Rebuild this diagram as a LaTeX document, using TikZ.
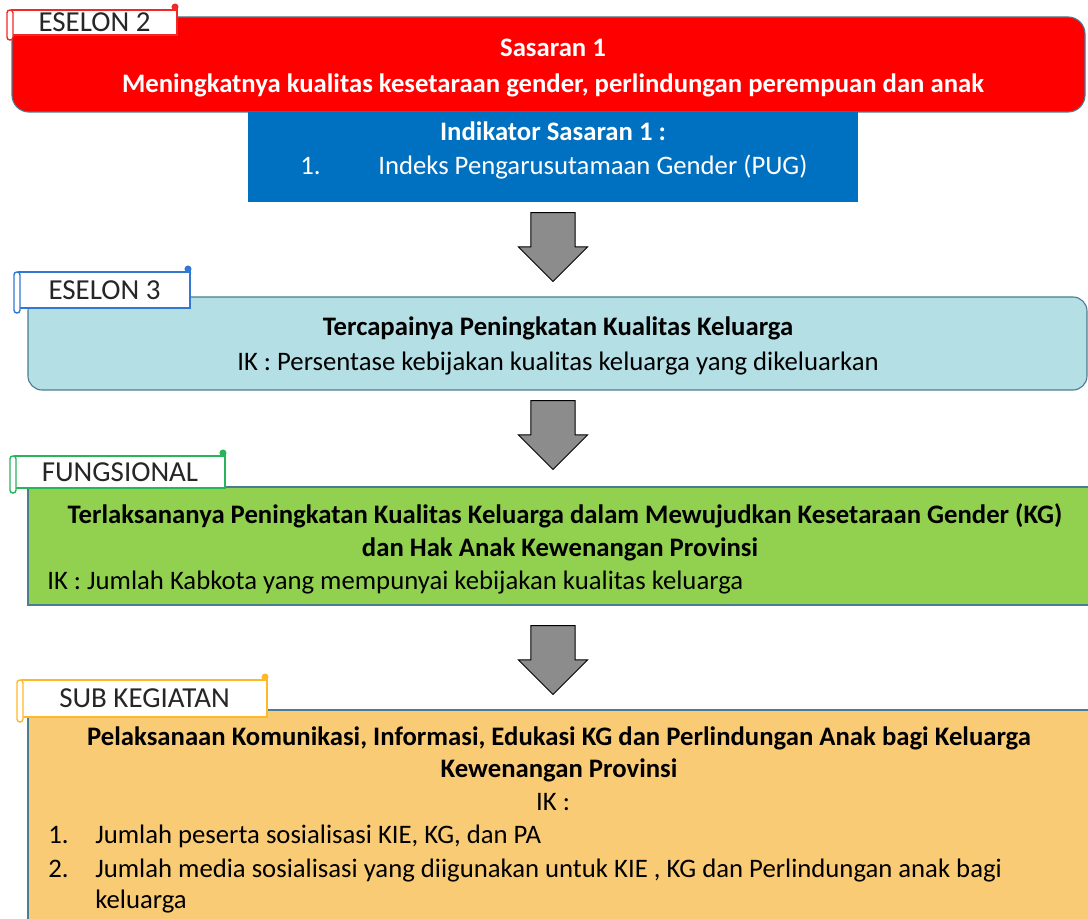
\documentclass[tikz,border=0pt]{standalone}
\usepackage{fontspec}
\setmainfont{Carlito}
\usepackage{tikz}
\usetikzlibrary{fit}
\usetikzlibrary{shapes.arrows}

\definecolor{sasaranred}{RGB}{255,0,0}
\definecolor{indikatorblue}{RGB}{0,112,192}
\definecolor{eselonblue}{RGB}{180,223,229}
\definecolor{fungsigreen}{RGB}{146,208,80}
\definecolor{subkegorange}{RGB}{250,203,117}
\definecolor{boxedge}{RGB}{75,125,145}
\definecolor{tabred}{RGB}{240,40,40}
\definecolor{tabblue}{RGB}{50,120,210}
\definecolor{tabgreen}{RGB}{40,180,90}
\definecolor{taborange}{RGB}{255,185,40}
\definecolor{arrowgray}{RGB}{140,140,140}
\definecolor{labelgray}{RGB}{38,38,38}

\begin{document}
\begin{tikzpicture}[x=0.025cm, y=-0.025cm,
    lvlbox/.style={draw=boxedge, line width=0.8pt, inner sep=0pt},
    tabbox/.style={draw=#1, fill=white, line width=1pt, inner sep=0pt},
    tablabel/.style={font=\fontsize{20.6}{24}\selectfont, text=labelgray, inner sep=0pt},
    downarrow/.style={single arrow, draw=black, fill=arrowgray, line width=0.7pt,
        rotate=-90, minimum height=1.72cm, minimum width=1.7cm,
        single arrow head extend=0.31cm, inner xsep=0.1cm, inner ysep=0.54cm},
    bodytext/.style={font=\fontsize{19}{23}\selectfont, inner sep=0pt, anchor=base},
    boldtext/.style={font=\fontsize{19}{23}\selectfont\bfseries, inner sep=0pt, anchor=base}]

    \useasboundingbox (0,0) rectangle (1088,919);
    \clip (0,0) rectangle (1088,919);

    % level boxes
    \node[lvlbox, fill=sasaranred, rounded corners=12pt, fit={(12,17) (1085,112)}] (sasaran) {};
    \node[fill=indikatorblue, inner sep=0pt, fit={(248,112) (858,202)}] (indikator) {};
    \node[lvlbox, fill=eselonblue, rounded corners=10pt, fit={(28,297) (1087,390)}] (eselon3) {};
    \node[lvlbox, fill=fungsigreen, fit={(28,487) (1100,605)}] (fungsional) {};
    \node[lvlbox, fill=subkegorange, fit={(28,710) (1100,940)}] (subkeg) {};

    % block arrows between the levels
    \foreach \y/\n in {236/arrowA, 424/arrowB, 649/arrowC}
        \node[downarrow] (\n) at (553,\y) {};

    % scroll tabs
    \foreach \n/\c/\xa/\ya/\xb/\yb/\t in {tabA/tabred/12/10/177/35/ESELON 2,
            tabB/tabblue/19/272/190/308/ESELON 3,
            tabC/tabgreen/15/456/225/488/FUNGSIONAL,
            tabD/taborange/22/680/267/717/SUB KEGIATAN}
    {
        \node[tabbox=\c, fit={(\xa,\ya) (\xb,\yb)}] (\n) {};
        \draw[\c, fill=white, line width=1pt, rounded corners=2pt] (\xa-5,\ya) rectangle (\xa+1,\yb+5);
        \fill[\c] (\xb-2,\ya-3) circle (2.5pt);
        \node[tablabel] (\n-text) at (\n) {\t};
    }

    % Eselon 2
    \node[boldtext, white] (sasaranA) at (553,57) {Sasaran 1};
    \node[boldtext, white] (sasaranB) at (553,93) {Meningkatnya kualitas kesetaraan gender, perlindungan perempuan dan anak};
    \node[boldtext, white] (indikA) at (553,141) {Indikator Sasaran 1 :};
    \node[bodytext, white, anchor=base west] (indikNum) at (300,175) {1.};
    \node[bodytext, white, anchor=base west] (indikB) at (378,175) {Indeks Pengarusutamaan Gender (PUG)};

    % Eselon 3
    \node[boldtext] (eselonA) at (558,336) {Tercapainya Peningkatan Kualitas Keluarga};
    \node[bodytext] (eselonB) at (558,370) {IK : Persentase kebijakan kualitas keluarga yang dikeluarkan};

    % Fungsional
    \node[boldtext] (fungsiA) at (565,523) {Terlaksananya Peningkatan Kualitas Keluarga dalam Mewujudkan Kesetaraan Gender (KG)};
    \node[boldtext] (fungsiB) at (560,556) {dan Hak Anak Kewenangan Provinsi};
    \node[bodytext, anchor=base west] (fungsiC) at (47,589) {IK : Jumlah Kabkota yang mempunyai kebijakan kualitas keluarga};

    % Sub kegiatan
    \node[boldtext] (subA) at (559,745) {Pelaksanaan Komunikasi, Informasi, Edukasi KG dan Perlindungan Anak bagi Keluarga};
    \node[boldtext] (subB) at (559,777) {Kewenangan Provinsi};
    \node[bodytext] (subC) at (553,810) {IK :};
    \foreach \y/\k/\n in {843/1/subD, 877/2/subE}
        \node[bodytext, anchor=base west] (\n-num) at (48,\y) {\k.};
    \node[bodytext, anchor=base west] (subD) at (95,843) {Jumlah peserta sosialisasi KIE, KG, dan PA};
    \node[bodytext, anchor=base west] (subE) at (95,877) {Jumlah media sosialisasi yang diigunakan untuk KIE , KG dan Perlindungan anak bagi};
    \node[bodytext, anchor=base west] (subF) at (95,908) {keluarga};
\end{tikzpicture}
\end{document}
